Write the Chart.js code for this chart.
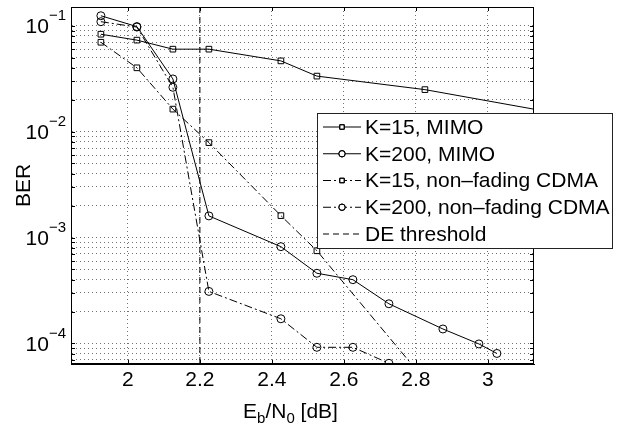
<!DOCTYPE html>
<html>
<head>
<meta charset="utf-8">
<script src="https://cdn.jsdelivr.net/npm/chart.js@4.4.1/dist/chart.umd.min.js"></script>
<style>
  html, body { margin: 0; padding: 0; background: #fff; }
</style>
</head>
<body>
<canvas id="chart" width="625" height="424"></canvas>
<script>
const FONT = "'Liberation Sans', Arial, 'DejaVu Sans', sans-serif"

// Eb/N0 [dB] and BER
const k15MimoX = [1.925, 2.025, 2.125, 2.225, 2.425, 2.525, 2.825, 3.225]
const k15MimoBer = [0.083, 0.073, 0.060, 0.060, 0.0465, 0.0334, 0.0249, 0.0142]

const k200MimoX = [1.925, 2.025, 2.125, 2.225, 2.425, 2.525, 2.625, 2.725, 2.875, 2.975, 3.025]
const k200MimoBer = [0.124, 0.098, 0.0314, 0.0016, 0.00082, 0.00046, 0.0004, 0.000237, 0.000137, 0.000099, 0.0000805]

const k15CdmaX = [1.925, 2.025, 2.125, 2.225, 2.425, 2.525, 2.825]
const k15CdmaBer = [0.0697, 0.040, 0.0163, 0.00787, 0.00161, 0.00075, 0.000045]

const k200CdmaX = [1.925, 2.025, 2.125, 2.225, 2.425, 2.525, 2.625, 2.725]
const k200CdmaBer = [0.109, 0.097, 0.0262, 0.00031, 0.000171, 0.000092, 0.000092, 0.000065]

const deThresholdX = [2.2, 2.2]
const deThresholdBer = [0.15, 0.000064]

const seriesLabels = ['K=15, MIMO', 'K=200, MIMO', 'K=15, non\u2013fading CDMA', 'K=200, non\u2013fading CDMA', 'DE threshold']

const xTicks = [2, 2.2, 2.4, 2.6, 2.8, 3]
const xTickLabels = ['2', '2.2', '2.4', '2.6', '2.8', '3']
const yMajorTicks = [1e-4, 1e-3, 1e-2, 1e-1]
const yMajorBase = '10'
const yMajorExponents = ['\u22124', '\u22123', '\u22122', '\u22121']
const yMinorTicks = [7e-5, 8e-5, 9e-5,
  2e-4, 3e-4, 4e-4, 5e-4, 6e-4, 7e-4, 8e-4, 9e-4,
  2e-3, 3e-3, 4e-3, 5e-3, 6e-3, 7e-3, 8e-3, 9e-3,
  2e-2, 3e-2, 4e-2, 5e-2, 6e-2, 7e-2, 8e-2, 9e-2]

const X_MIN = 1.842, X_MAX = 3.128
const Y_MIN = 0.000064, Y_MAX = 0.15

const DASH_DOT = [8, 3, 2, 3]
const DASHED = [6, 4]
const GRID = 'rgba(0,0,0,0.55)'

const pts = (xs, ys) => xs.map((x, i) => ({ x, y: ys[i] }))

const series = (label, data, dash, pointStyle) => ({
  label,
  data,
  borderColor: '#000',
  borderWidth: 1,
  borderDash: dash,
  tension: 0,
  pointStyle: pointStyle || 'circle',
  pointRadius: pointStyle ? 4 : 0,
  pointBorderColor: '#000',
  pointBackgroundColor: 'rgba(0,0,0,0)',
  pointBorderWidth: 1
})

// box, inward tick marks, power-of-ten labels, x title with subscripts, legend
const decorations = {
  id: 'decorations',
  afterDraw(chart) {
    const { ctx, chartArea: a, scales } = chart
    ctx.save()
    ctx.strokeStyle = '#000'
    ctx.lineWidth = 1
    ctx.beginPath()
    scales.y.ticks.forEach(t => {
      const y = Math.round(scales.y.getPixelForValue(t.value)) + 0.5
      ctx.moveTo(a.left, y); ctx.lineTo(a.left + 4, y)
      ctx.moveTo(a.right, y); ctx.lineTo(a.right - 4, y)
    })
    scales.x.ticks.forEach(t => {
      const x = Math.round(scales.x.getPixelForValue(t.value)) + 0.5
      ctx.moveTo(x, a.bottom); ctx.lineTo(x, a.bottom - 4)
      ctx.moveTo(x, a.top); ctx.lineTo(x, a.top + 4)
    })
    ctx.stroke()
    ctx.strokeRect(a.left + 0.5, a.top + 0.5, a.right - a.left - 1, a.bottom - a.top - 1)

    // y tick labels 10^k
    ctx.fillStyle = '#000'
    ctx.textBaseline = 'alphabetic'
    ctx.textAlign = 'right'
    yMajorTicks.forEach((v, i) => {
      const y = scales.y.getPixelForValue(v)
      ctx.font = '15px ' + FONT
      const ew = ctx.measureText(yMajorExponents[i]).width
      ctx.fillText(yMajorExponents[i], a.left - 5, y - 5.5)
      ctx.font = '21px ' + FONT
      ctx.fillText(yMajorBase, a.left - 5 - ew, y + 7.5)
    })
    ctx.textAlign = 'left'

    // x axis title: E_b/N_0 [dB]
    const parts = [['E', 21, 0], ['b', 15, 5], ['/N', 21, 0], ['0', 15, 5], [' [dB]', 21, 0]]
    let w = 0
    parts.forEach(p => { ctx.font = p[1] + 'px ' + FONT; w += ctx.measureText(p[0]).width })
    let x = (a.left + a.right) / 2 - 12 - w / 2
    parts.forEach(p => {
      ctx.font = p[1] + 'px ' + FONT
      ctx.fillText(p[0], x, 418 + p[2])
      x += ctx.measureText(p[0]).width
    })

    // legend
    const lx = 317, ly = 113, lw = 295, lh = 135
    ctx.fillStyle = '#fff'
    ctx.fillRect(lx, ly, lw, lh)
    ctx.strokeStyle = '#222'
    ctx.strokeRect(lx + 0.5, ly + 0.5, lw, lh)
    ctx.font = '21px ' + FONT
    ctx.textBaseline = 'middle'
    chart.data.datasets.forEach((ds, i) => {
      const y = ly + 14 + i * 26.75
      ctx.strokeStyle = '#000'
      ctx.setLineDash(ds.borderDash)
      ctx.beginPath()
      ctx.moveTo(lx + 6, y); ctx.lineTo(lx + 44, y)
      ctx.stroke()
      ctx.setLineDash([])
      if (ds.pointRadius > 0) {
        ctx.fillStyle = '#fff'
        Chart.helpers.drawPoint(ctx, { pointStyle: ds.pointStyle, radius: 3.2, borderWidth: 1 }, lx + 25, y)
        ctx.stroke()
      }
      ctx.fillStyle = '#000'
      ctx.fillText(ds.label, lx + 48, y + 1)
    })
    ctx.restore()
  }
}

const tickFont = { family: FONT, size: 21 }

new Chart(document.getElementById('chart'), {
  type: 'line',
  data: {
    datasets: [
      series(seriesLabels[0], pts(k15MimoX, k15MimoBer), [], 'rect'),
      series(seriesLabels[1], pts(k200MimoX, k200MimoBer), [], 'circle'),
      series(seriesLabels[2], pts(k15CdmaX, k15CdmaBer), DASH_DOT, 'rect'),
      series(seriesLabels[3], pts(k200CdmaX, k200CdmaBer), DASH_DOT, 'circle'),
      series(seriesLabels[4], pts(deThresholdX, deThresholdBer), DASHED, null)
    ]
  },
  options: {
    responsive: false,
    animation: false,
    layout: { padding: { top: 7, right: 91, left: 0, bottom: 0 } },
    plugins: { legend: { display: false }, tooltip: { enabled: false } },
    scales: {
      x: {
        type: 'linear',
        min: X_MIN,
        max: X_MAX,
        afterBuildTicks: s => { s.ticks = xTicks.map(v => ({ value: v })) },
        afterFit: s => { s.height = 60 },
        ticks: {
          font: tickFont, color: '#000', padding: 4, autoSkip: false, maxRotation: 0,
          callback: v => xTickLabels[xTicks.indexOf(v)]
        },
        grid: { color: GRID, drawTicks: false },
        border: { display: true, color: '#000', dash: [1, 3] }
      },
      y: {
        type: 'logarithmic',
        min: Y_MIN,
        max: Y_MAX,
        afterBuildTicks: s => {
          s.ticks = yMinorTicks.concat(yMajorTicks).sort((a, b) => a - b).map(v => ({ value: v }))
        },
        afterFit: s => { s.width = 71 },
        ticks: { display: false },
        title: { display: true, text: 'BER', font: tickFont, color: '#000', padding: { top: 12, bottom: 0 } },
        grid: { color: GRID, drawTicks: false },
        border: { display: true, color: '#000', dash: [1, 3] }
      }
    }
  },
  plugins: [decorations]
})
</script>
</body>
</html>
